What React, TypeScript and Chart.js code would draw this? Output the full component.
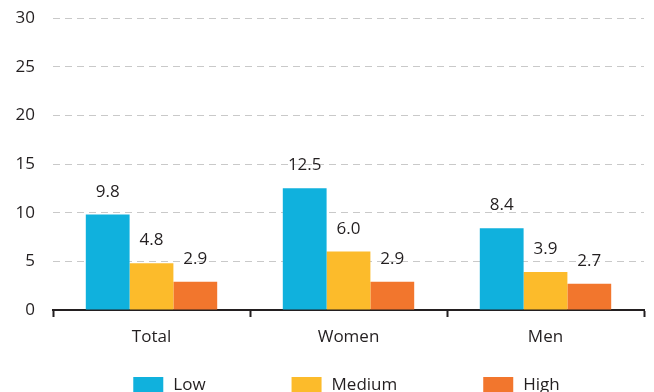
import React, { useEffect, useRef } from "react";
import { Chart, registerables } from "chart.js";

Chart.register(...registerables);

const categories = ["Total", "Women", "Men"];
const seriesNames = ["Low", "Medium", "High"];
const lowValues = [9.8, 12.5, 8.4];
const mediumValues = [4.8, 6.0, 3.9];
const highValues = [2.9, 2.9, 2.7];
const seriesColors = ["#10b1dd", "#fcbb2b", "#f2762d"];
const yTicks = [0, 5, 10, 15, 20, 25, 30];

const FONT = "'Open Sans', 'Noto Sans', sans-serif";
const FS = 17;
const TEXT = "#231f20";

const valueLabels = {
  id: "valueLabels",
  afterDatasetsDraw(chart: any) {
    const ctx = chart.ctx;
    ctx.save();
    ctx.font = `${FS}px ${FONT}`;
    ctx.fillStyle = TEXT;
    ctx.textAlign = "center";
    ctx.textBaseline = "alphabetic";
    chart.data.datasets.forEach((ds: any, i: number) => {
      const meta = chart.getDatasetMeta(i);
      meta.data.forEach((bar: any, j: number) => {
        const v = ds.data[j];
        ctx.fillText(v.toFixed(1), bar.x, bar.y - 18);
      });
    });
    ctx.restore();
  },
};

const customLegend = {
  id: "customLegend",
  afterDraw(chart: any) {
    const ctx = chart.ctx;
    ctx.save();
    ctx.font = `${FS}px ${FONT}`;
    const box = 30;
    const gapText = 10;
    const gapItem = 86;
    const widths = seriesNames.map((n) => box + gapText + ctx.measureText(n).width);
    const total = widths.reduce((a, b) => a + b, 0) + gapItem * (seriesNames.length - 1);
    const area = chart.chartArea;
    let x = (area.left + area.right) / 2 - total / 2 - 2;
    const yTop = 377;
    seriesNames.forEach((n, i) => {
      ctx.fillStyle = seriesColors[i];
      ctx.fillRect(x, yTop, box, 16);
      ctx.fillStyle = TEXT;
      ctx.textAlign = "left";
      ctx.textBaseline = "middle";
      ctx.fillText(n, x + box + gapText, yTop + 8);
      x += widths[i] + gapItem;
    });
    ctx.restore();
  },
};

export default function App() {
  const ref = useRef<HTMLCanvasElement>(null);
  useEffect(() => {
    document.body.style.margin = "0";
    document.body.style.overflow = "hidden";
    const chart = new Chart(ref.current!, {
      type: "bar",
      data: {
        labels: categories,
        datasets: [lowValues, mediumValues, highValues].map((d, i) => ({
          label: seriesNames[i],
          data: d,
          backgroundColor: seriesColors[i],
          borderWidth: 0,
          categoryPercentage: 0.667,
          barPercentage: 1,
        })),
      },
      options: {
        responsive: false,
        animation: false,
        layout: { padding: { top: 18, right: 10, bottom: 0, left: 0 } },
        plugins: { legend: { display: false }, tooltip: { enabled: false } },
        scales: {
          x: {
            grid: {
              offset: true,
              drawOnChartArea: false,
              drawTicks: true,
              tickLength: 7,
              tickWidth: 2,
              tickColor: "#231f20",
            },
            border: { display: true, color: "#231f20", width: 2 },
            ticks: {
              font: { family: FONT, size: FS },
              color: TEXT,
              padding: 10,
            },
            afterFit(scale: any) {
              scale.height = 82;
            },
          },
          y: {
            min: 0,
            max: 30,
            afterBuildTicks(scale: any) {
              scale.ticks = yTicks.map((v) => ({ value: v }));
            },
            grid: {
              drawTicks: true,
              tickLength: 18,
              tickColor: "rgba(0,0,0,0)",
              color: (c: any) => (c.tick && c.tick.value === 0 ? "rgba(0,0,0,0)" : "#c9c9c9"),
              lineWidth: 1,
            },
            border: { display: false, dash: [7, 5] },
            ticks: {
              font: { family: FONT, size: FS },
              color: TEXT,
              padding: 0,
            },
            afterFit(scale: any) {
              scale.width = 53;
            },
          },
        },
      },
      plugins: [valueLabels, customLegend],
    });
    return () => chart.destroy();
  }, []);
  return <canvas ref={ref} width={654} height={392} style={{ display: "block" }} />;
}
